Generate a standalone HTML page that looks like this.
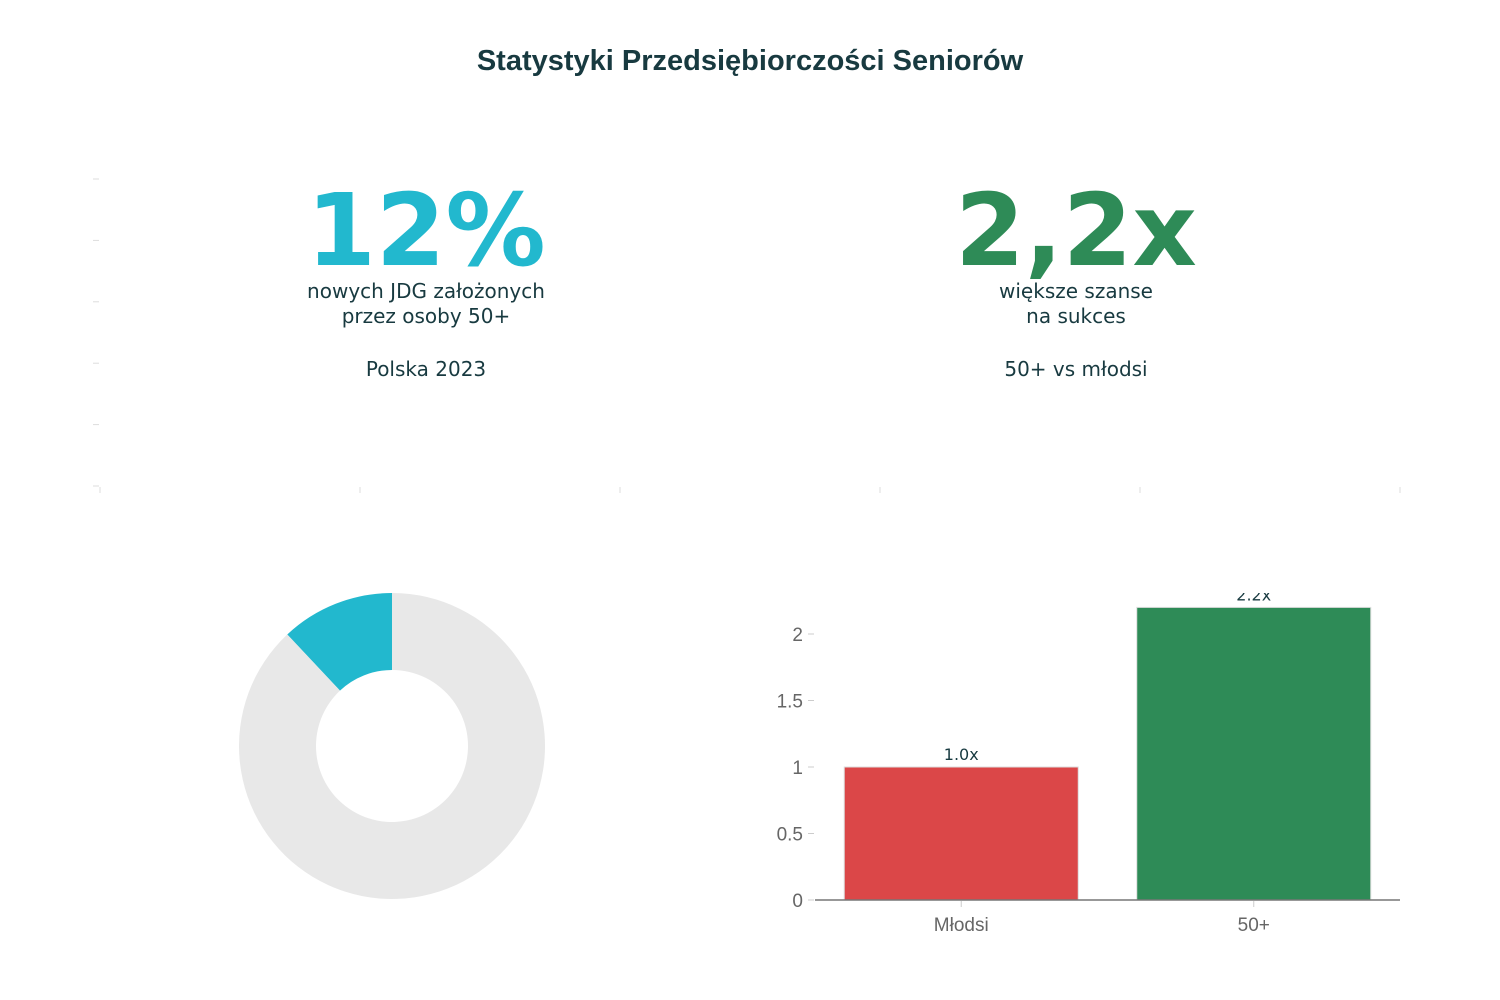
<!DOCTYPE html>
<html><head><meta charset="utf-8"><style>
html,body{margin:0;padding:0;background:#fff;}
svg{display:block;}
</style></head><body>
<svg width="1500" height="1000" viewBox="0 0 1500 1000">
<text x="750" y="70" text-anchor="middle" font-family="Liberation Sans, sans-serif" font-weight="bold" font-size="29" fill="#183a40">Statystyki Przedsiębiorczości Seniorów</text>
<g id="topticks" stroke="#ddd" stroke-width="1"></g>
<g font-family="DejaVu Sans, sans-serif" text-anchor="middle">
<text x="426" y="265" font-size="100" font-weight="bold" fill="#22b8ce">12%</text>
<text x="426" y="298" font-size="20" fill="#183a40">nowych JDG założonych</text>
<text x="426" y="323" font-size="20" fill="#183a40">przez osoby 50+</text>
<text x="426" y="376" font-size="20" fill="#183a40">Polska 2023</text>
</g>
<g font-family="DejaVu Sans, sans-serif" text-anchor="middle">
<text x="1076" y="265" font-size="100" font-weight="bold" fill="#2e8b57">2,2x</text>
<text x="1076" y="298" font-size="20" fill="#183a40">większe szanse</text>
<text x="1076" y="323" font-size="20" fill="#183a40">na sukces</text>
<text x="1076" y="376" font-size="20" fill="#183a40">50+ vs młodsi</text>
</g>
<g id="donut"></g>
<g id="bars"></g>
</svg>
<script>
const donutLabels=["50+","Pozostali"];
const donutValues=[12,88];
const donutColors=["#22b8ce","#e8e8e8"];
const barCategories=["Młodsi","50+"];
const barValues=[1.0,2.2];
const barColors=["#db4748","#2e8b57"];
const barTicks=[0,0.5,1,1.5,2];
const NS="http://www.w3.org/2000/svg";
function mk(tag,attrs,parent){const e=document.createElementNS(NS,tag);for(const k in attrs)e.setAttribute(k,attrs[k]);parent.appendChild(e);return e;}
const tt=document.getElementById('topticks');
for(let i=0;i<6;i++){const y=179+i*61.4;const l=mk('line',{x1:93,x2:99,y1:y,y2:y},tt);

}
for(let i=0;i<6;i++){const x=100+i*260;const l=mk('line',{x1:x,x2:x,y1:487,y2:493},tt);

}
const dg=document.getElementById('donut');
const cx=392,cy=746,R=153,r=76;
const total=donutValues.reduce((a,b)=>a+b,0);
let start=0;
donutValues.forEach((v,i)=>{
  const a0=start, a1=start+v/total*2*Math.PI; start=a1;
  const p=(rad,ang)=>[cx-rad*Math.sin(ang),cy-rad*Math.cos(ang)];
  const large=(a1-a0)>Math.PI?1:0;
  const [x0,y0]=p(R,a0),[x1,y1]=p(R,a1),[x2,y2]=p(r,a1),[x3,y3]=p(r,a0);
  const d=`M${x0},${y0} A${R},${R} 0 ${large} 0 ${x1},${y1} L${x2},${y2} A${r},${r} 0 ${large} 1 ${x3},${y3} Z`;
  const s=mk('path',{d:d,fill:donutColors[i]},dg);
  
  
});
const bg=document.getElementById('bars');
const x0=815,x1=1400,yBase=900,unit=133,plotTop=593;
const band=(x1-x0)/barCategories.length;
const yS=v=>yBase-v*unit;
const clip=mk('clipPath',{id:'plotclip'},bg);
mk('rect',{x:x0,y:plotTop,width:x1-x0,height:yBase-plotTop+2},clip);
barTicks.forEach(t=>{
  const l=mk('line',{x1:808,x2:814,y1:yS(t),y2:yS(t),stroke:'#ccc'},bg);
  
  
  const tx=mk('text',{x:803,y:yS(t)+7,'text-anchor':'end','font-family':'Liberation Sans, sans-serif','font-size':19,fill:'#666'},bg);
  tx.textContent=String(t);
  
  
});
const pg=mk('g',{'clip-path':'url(#plotclip)'},bg);
barCategories.forEach((c,i)=>{
  const cxb=x0+band*(i+0.5), w=band*0.8;
  const b=mk('rect',{x:cxb-w/2,y:yS(barValues[i]),width:w,height:yBase-yS(barValues[i]),fill:barColors[i],stroke:'#ddd','stroke-width':1},pg);
  
  
  const lb=mk('text',{x:cxb,y:yS(barValues[i])-7,'text-anchor':'middle','font-family':'DejaVu Sans, sans-serif','font-size':16,fill:'#183a40'},pg);
  lb.textContent=barValues[i].toFixed(1)+'x';
  
  
  const tk=mk('line',{x1:cxb,x2:cxb,y1:901,y2:907,stroke:'#ccc'},bg);
  
  
  const xl=mk('text',{x:cxb,y:931,'text-anchor':'middle','font-family':'Liberation Sans, sans-serif','font-size':19,fill:'#666'},bg);
  xl.textContent=c;
  
  
});
const ax=mk('line',{x1:x0,x2:x1,y1:yBase,y2:yBase,stroke:'#777','stroke-width':1.5},bg);


</script>
</body></html>
